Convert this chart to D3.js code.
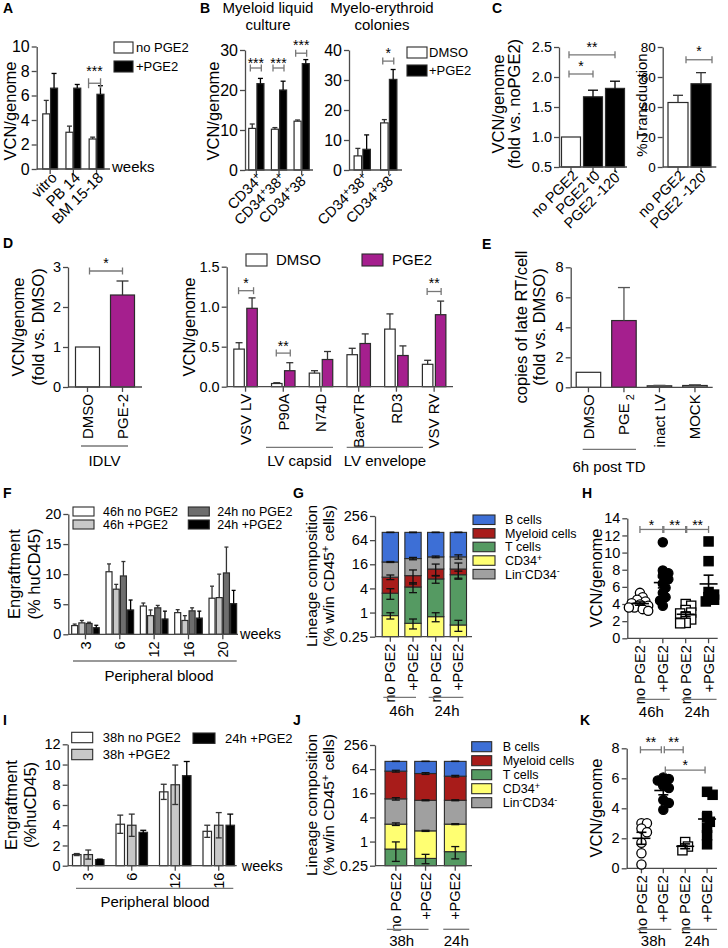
<!DOCTYPE html>
<html>
<head>
<meta charset="utf-8">
<script src="https://cdn.jsdelivr.net/npm/d3@7"></script>
<style>
  body { margin: 0; background: #fff; }
</style>
</head>
<body>
<div id="fig"></div>
<script>
// ---------- data ----------
// A
const aCats = ['vitro', 'PB 14', 'BM 15-18'];
const aNo = [4.5, 3.0, 2.45];
const aNoErr = [1.1, 0.5, 0.15];
const aPge = [6.6, 6.6, 6.1];
const aPgeErr = [1.2, 0.3, 0.7];

// B
const bLiqCats = ['CD34+', 'CD34+38+', 'CD34+38-'];
const bLiqDmso = [10.4, 10.2, 12.2];
const bLiqDmsoErr = [1.1, 0.4, 0.3];
const bLiqPge = [21.6, 20.0, 26.6];
const bLiqPgeErr = [1.3, 2.2, 1.0];
const bColCats = ['CD34+38+', 'CD34+38-'];
const bColDmso = [4.7, 15.7];
const bColDmsoErr = [2.5, 1.1];
const bColPge = [6.9, 30.2];
const bColPgeErr = [4.8, 3.3];

// C
const cVcnCats = ['no PGE2', 'PGE2 t0', "PGE2 -120'"];
const cVcn = [1.0, 1.67, 1.81];
const cVcnErr = [0, 0.11, 0.12];
const cTrCats = ['no PGE2', "PGE2 -120'"];
const cTr = [43, 55.5];
const cTrErr = [4.8, 7.4];

// D
const dIdlvCats = ['DMSO', 'PGE-2'];
const dIdlv = [1.0, 2.3];
const dIdlvErr = [0, 0.35];
const dVecCats = ['VSV LV', 'P90A', 'N74D', 'BaevTR', 'RD3', 'VSV RV'];
const dVecDmso = [0.47, 0.04, 0.17, 0.40, 0.72, 0.28];
const dVecDmsoErr = [0.08, 0.01, 0.03, 0.08, 0.19, 0.05];
const dVecPge = [0.98, 0.20, 0.34, 0.54, 0.39, 0.90];
const dVecPgeErr = [0.13, 0.10, 0.10, 0.12, 0.12, 0.17];

// E
const eCats = ['DMSO', 'PGE2', 'inact LV', 'MOCK'];
const eVals = [1.0, 4.45, 0.1, 0.12];
const eErr = [0, 2.2, 0.03, 0.05];

// F
const fWeeks = ['3', '6', '12', '16', '20'];
const f46No = [1.45, 10.4, 4.7, 3.6, 6.0];
const f46NoErr = [0.25, 1.3, 0.5, 0.5, 2.0];
const f46Pge = [1.9, 7.5, 3.1, 2.3, 6.1];
const f46PgeErr = [0.4, 0.8, 0.95, 0.8, 3.9];
const f24No = [1.8, 9.7, 4.4, 3.9, 10.2];
const f24NoErr = [0.2, 2.4, 0.4, 0.5, 4.3];
const f24Pge = [1.1, 4.05, 2.55, 2.7, 5.1];
const f24PgeErr = [0.4, 1.65, 1.3, 1.15, 2.2];

// G (percent of CD45+ cells, stacked)
const gBars = ['46h no', '46h +', '24h no', '24h +'];
const gBarLabels = ['no PGE2', '+PGE2', 'no PGE2', '+PGE2'];
const gCD34 = [0.84, 0.54, 0.79, 0.49];
const gT = [2.2, 3.8, 6.1, 8.3];
const gMyel = [4.6, 4.0, 5.3, 3.4];
const gLin = [10.6, 13.9, 12.3, 12.3];
const gB = [81.8, 77.8, 75.5, 75.5];
const gErr = {CD34: [0.15, 0.15, 0.2, 0.15], T: [0.9, 1.2, 1.5, 2.0], Myel: [1.0, 3.2, 4.0, 5.0], Lin: [0.5, 1.5, 1.2, 3.0], B: [1.0, 1.5, 1.0, 1.0]};

// H
const hGroups = ['46h no PGE2', '46h +PGE2', '24h no PGE2', '24h +PGE2'];
const hNo46 = [5.3, 4.8, 4.5, 4.3, 4.1, 3.95, 3.8, 3.6, 3.4, 3.2, 3.6];
const hPge46 = [11.2, 7.9, 7.6, 7.3, 6.9, 6.4, 5.3, 4.8, 4.4, 3.8, 5.9];
const hNo24 = [4.0, 3.8, 3.3, 3.0, 2.9, 2.5, 2.2, 1.8, 1.75];
const hPge24 = [11.3, 9.0, 5.4, 5.1, 4.8, 4.5, 4.3];

// I
const iWeeks = ['3', '6', '12', '16'];
const i38No = [1.1, 4.1, 7.3, 3.4];
const i38NoErr = [0.1, 0.9, 0.75, 0.6];
const i38Pge = [1.1, 4.0, 8.0, 4.0];
const i38PgeErr = [0.45, 1.1, 1.95, 1.25];
const i24Pge = [0.6, 3.3, 8.9, 4.0];
const i24PgeErr = [0.05, 0.2, 1.4, 1.1];

// J
const jBars = ['38h no', '38h +', '24h +'];
const jBarLabels = ['no PGE2', '+PGE2', '+PGE2'];
const jT = [0.65, 0.38, 0.56];
const jCD34 = [2.07, 1.47, 2.16];
const jLin = [8.9, 8.85, 8.0];
const jMyel = [45.4, 39.1, 32.0];
const jB = [43.0, 50.2, 57.3];
const jErr = {T: [0.33, 0.1, 0.19], CD34: [0.2, 0.06, 0.08], Lin: [0.8, 0.3, 0.3], Myel: [3, 2.5, 2], B: [0.5, 0.5, 0.5]};

// K
const kGroups = ['38h no PGE2', '38h +PGE2', '24h no PGE2', '24h +PGE2'];
const kNo38 = [3.0, 3.0, 2.65, 2.4, 1.7, 1.0, 0.25];
const kPge38 = [6.05, 5.95, 5.85, 5.5, 5.35, 4.55, 4.35, 3.9];
const kNo24 = [1.75, 1.45, 1.2];
const kPge24 = [5.1, 4.9, 3.4, 3.1, 2.7, 2.2, 1.6];

// lineage legend
const linNames = ['B cells', 'Myeloid cells', 'T cells', 'CD34+', 'Lin-CD34-'];
const linKeys = ['B', 'Myel', 'T', 'CD34', 'Lin'];

// ---------- style ----------
const FONT = '"Liberation Sans", Arial, Helvetica, sans-serif';
const AXC = '#4a4a4a';
const BRC = '#777';
const PURPLE = '#a51f8e';
const LIN = {B: '#3d6fd6', Myel: '#a81c1a', T: '#559a62', CD34: '#ffff72', Lin: '#a0a0a0'};

const svg = d3.select('#fig').append('svg')
  .attr('width', 728).attr('height', 948)
  .attr('font-family', FONT);

// ---------- helpers ----------
function rich(t, parts, fs, dy0) {
  let cur = 0;
  parts.forEach((p, i) => {
    const [s, k] = typeof p === 'string' ? [p, null] : p;
    const target = k === 'sup' ? -fs * 0.34 : k === 'sub' ? fs * 0.3 : 0;
    t.append('tspan')
      .attr('dy', (i === 0 ? dy0 : 0) + target - cur)
      .attr('font-size', k ? fs * 0.72 : fs)
      .text(s);
    cur = target;
  });
}

// "CD34+38-" -> superscript signs
const supSigns = s => s.split(/([+-])/).filter(d => d !== '').map(d => (d === '+' || d === '-') ? [d, 'sup'] : d);

function txt(x, y, content, o = {}) {
  const fs = o.fs || 14;
  const t = svg.append('text')
    .attr('transform', `translate(${x},${y})${o.rot ? ` rotate(${o.rot})` : ''}`)
    .attr('font-size', fs)
    .attr('text-anchor', o.anchor || 'start')
    .attr('fill', '#000');
  if (o.bold) t.attr('font-weight', 'bold');
  const dy = o.dy || 0;
  if (Array.isArray(content)) rich(t, content, fs, dy);
  else t.attr('dy', dy).text(content);
  return t;
}

function line(x1, y1, x2, y2, color = AXC, w = 1.3) {
  svg.append('line').attr('x1', x1).attr('y1', y1).attr('x2', x2).attr('y2', y2)
    .attr('stroke', color).attr('stroke-width', w);
}

function yAxis(x, y, vals, fmt, fs = 14) {
  const g = svg.append('g').attr('transform', `translate(${x},0)`)
    .call(d3.axisLeft(y).tickValues(vals).tickFormat(fmt).tickSize(5).tickSizeOuter(0).tickPadding(2));
  g.select('.domain').attr('stroke', AXC).attr('stroke-width', 1.3);
  g.selectAll('.tick line').attr('stroke', AXC).attr('stroke-width', 1.3);
  g.selectAll('.tick text').attr('font-family', FONT).attr('font-size', fs).attr('fill', '#000');
}

const mid = (x, c) => x(c) + x.bandwidth() / 2;

function xAxis(x, yPix, x0, x1, cats) {
  line(x0, yPix, x1, yPix);
  cats.forEach(c => line(mid(x, c), yPix, mid(x, c), yPix + 5));
}

function yTitle(x, yc, lines, fs = 16.5, lh = 19) {
  lines.forEach((l, i) => txt(x + i * lh, yc, l, {rot: -90, anchor: 'middle', fs}));
}

function catLabels(x, yPix, cats, o) {
  const fs = o.fs || 14.5;
  cats.forEach((c, i) => {
    const content = o.parts ? o.parts(c, i) : (o.names ? o.names[i] : c);
    if (o.rot === -45) {
      txt(mid(x, c) + (o.dx || 4), yPix + (o.gap || 6), content, {rot: -45, anchor: 'end', fs, dy: fs * 0.35});
    } else {
      txt(mid(x, c), yPix + (o.gap || 7), content, {rot: -90, anchor: 'end', fs, dy: fs * 0.35});
    }
  });
}

// grouped bars with error bars
function bars(x, y, cats, series, o) {
  const n = series.length;
  const base = o.base !== undefined ? o.base : 0;
  series.forEach((s, i) => {
    const off = (i - (n - 1) / 2) * (o.pitch || 0);
    const cx = c => mid(x, c) + off;
    const fill = j => Array.isArray(s.fill) ? s.fill[j] : s.fill;
    svg.append('g').selectAll('rect').data(cats).join('rect')
      .attr('x', c => cx(c) - o.bw / 2)
      .attr('y', (c, j) => y(s.v[j]))
      .attr('width', o.bw)
      .attr('height', (c, j) => y(base) - y(s.v[j]))
      .attr('fill', (c, j) => fill(j))
      .attr('stroke', '#2b2b2b')
      .attr('stroke-width', 1.2);
    const cap = o.cap || o.bw * 0.5;
    const ec = s.errColor || '#333';
    cats.forEach((c, j) => {
      const e = s.e[j];
      if (!e) return;
      const top = y(s.v[j] + e);
      const bot = o.both ? y(Math.max(s.v[j] - e, base)) : y(s.v[j]);
      line(cx(c), bot, cx(c), top, ec, 1.3);
      line(cx(c) - cap / 2, top, cx(c) + cap / 2, top, ec, 1.3);
      if (o.both) line(cx(c) - cap / 2, bot, cx(c) + cap / 2, bot, ec, 1.3);
    });
  });
}

// significance bracket between two pixel x positions at value level
function bracket(xa, xb, yPix, stars, o = {}) {
  const h = o.h || 3.5;
  line(xa, yPix, xb, yPix, BRC, 1.3);
  line(xa, yPix - h, xa, yPix + h, BRC, 1.3);
  line(xb, yPix - h, xb, yPix + h, BRC, 1.3);
  const fs = o.fs || 14;
  txt((xa + xb) / 2, yPix - (o.gap || 10.5) + fs * 0.57, stars, {anchor: 'middle', fs});
}

function legend(items, x, y, o) {
  items.forEach((it, i) => {
    const yy = y + i * o.step;
    svg.append('rect').attr('x', x).attr('y', yy).attr('width', o.w).attr('height', o.h)
      .attr('fill', it.fill).attr('stroke', '#2b2b2b').attr('stroke-width', 1.1);
    txt(x + o.w + o.gap, yy + o.h / 2, it.label, {fs: o.fs, dy: o.fs * 0.35});
  });
}

// stacked bars on a log axis
function stackBars(x, y, bars, rows, keys, errs, bw) {
  const stacked = d3.stack().keys(keys)(rows);
  const lo = y.domain()[0];
  stacked.forEach(layer => {
    svg.append('g').selectAll('rect').data(layer).join('rect')
      .attr('x', (d, j) => mid(x, bars[j]) - bw / 2)
      .attr('y', d => y(d[1]))
      .attr('width', bw)
      .attr('height', d => y(Math.max(d[0], lo)) - y(d[1]))
      .attr('fill', LIN[layer.key])
      .attr('stroke', '#2b2b2b')
      .attr('stroke-width', 1.1);
  });
  stacked.forEach(layer => {
    layer.forEach((d, j) => {
      const e = errs[layer.key][j];
      const cx = mid(x, bars[j]);
      const t = y(d[1] + e), b = y(Math.max(d[1] - e, lo));
      line(cx, b, cx, t, '#111', 1.3);
      line(cx - 4, t, cx + 4, t, '#111', 1.3);
      line(cx - 4, b, cx + 4, b, '#111', 1.3);
    });
  });
}

// simple beeswarm offsets in pixels (points may overlap a little)
function swarm(vals, y, r) {
  const placed = [];
  const pts = vals.map(v => ({v, py: y(v), dx: 0})).sort((a, b) => a.py - b.py);
  const minD = r * 1.05;
  pts.forEach(p => {
    for (let k = 0; k < 40; k++) {
      const dx = (k % 2 ? 1 : -1) * Math.ceil(k / 2) * r * 0.6;
      if (placed.every(q => (q.dx - dx) ** 2 + (q.py - p.py) ** 2 >= minD * minD)) { p.dx = dx; break; }
    }
    placed.push(p);
  });
  return pts;
}

function scatter(cx, y, vals, shape, filled) {
  const r = 4.6;
  const pts = swarm(vals, y, r);
  const g = svg.append('g');
  pts.forEach(p => {
    const el = shape === 'circle'
      ? g.append('circle').attr('cx', cx + p.dx).attr('cy', p.py).attr('r', r)
      : g.append('rect').attr('x', cx + p.dx - r).attr('y', p.py - r).attr('width', r * 2).attr('height', r * 2);
    el.attr('fill', filled ? '#000' : '#fff').attr('stroke', '#000').attr('stroke-width', 1.3);
  });
  const m = d3.mean(vals);
  const sem = d3.deviation(vals) / Math.sqrt(vals.length);
  line(cx - 9, y(m), cx + 9, y(m), '#000', 1.6);
  line(cx, y(m - sem), cx, y(m + sem), '#000', 1.6);
  line(cx - 5, y(m - sem), cx + 5, y(m - sem), '#000', 1.6);
  line(cx - 5, y(m + sem), cx + 5, y(m + sem), '#000', 1.6);
}

const fmtD = d3.format('d');
const fmt1 = d3.format('.1f');

// ---------- panel letters ----------
[['A', 3, 13], ['B', 200, 13], ['C', 492, 13], ['D', 3, 248], ['E', 482, 249], ['F', 3, 498],
 ['G', 293, 498], ['H', 582, 498], ['I', 3, 725], ['J', 293, 725], ['K', 580, 725]]
  .forEach(([l, x, y]) => txt(x, y, l, {fs: 14, bold: true}));

// ---------- A ----------
{
  const x = d3.scaleBand().domain(aCats).range([36.7, 110]).paddingOuter(0.08);
  const y = d3.scaleLinear().domain([0, 10]).range([169, 46.5]);
  yAxis(36.7, y, [0, 2, 4, 6, 8, 10], fmtD, 16);
  bars(x, y, aCats, [{v: aNo, e: aNoErr, fill: '#fff'}, {v: aPge, e: aPgeErr, fill: '#000', errColor: '#000'}], {bw: 7, pitch: 7.8, cap: 5});
  xAxis(x, y(0), 36.7, 110, aCats);
  catLabels(x, y(0), aCats, {rot: -45, fs: 15});
  txt(112, y(0) - 2, 'weeks', {fs: 15, dy: 5});
  yTitle(15.5, 111, ['VCN/genome']);
  const xb = mid(x, 'BM 15-18');
  bracket(xb - 8, xb + 4, y(7.0), '***', {h: 5, gap: 15});
  legend([{label: 'no PGE2', fill: '#fff'}, {label: '+PGE2', fill: '#000'}], 114, 42, {w: 19, h: 11, step: 19, gap: 3, fs: 13});
}

// ---------- B ----------
{
  txt(268, 13, 'Myeloid liquid', {fs: 15, anchor: 'middle'});
  txt(268, 30, 'culture', {fs: 15, anchor: 'middle'});
  txt(382, 13, 'Myelo-erythroid', {fs: 15, anchor: 'middle'});
  txt(382, 30, 'colonies', {fs: 15, anchor: 'middle'});

  const x = d3.scaleBand().domain(bLiqCats).range([245, 313]);
  const y = d3.scaleLinear().domain([0, 30]).range([170, 50]);
  yAxis(245, y, [0, 10, 20, 30], fmtD, 16);
  bars(x, y, bLiqCats, [{v: bLiqDmso, e: bLiqDmsoErr, fill: '#fff'}, {v: bLiqPge, e: bLiqPgeErr, fill: '#000', errColor: '#000'}], {bw: 7, pitch: 8.2, cap: 5});
  xAxis(x, y(0), 245, 313, bLiqCats);
  catLabels(x, y(0), bLiqCats, {rot: -45, fs: 14.5, parts: supSigns});
  yTitle(219, 111, ['VCN/genome']);
  bLiqCats.forEach((c, i) => {
    const lvl = i === 2 ? 29.2 : 25.5;
    bracket(mid(x, c) - 6, mid(x, c) + 5, y(lvl), '***', {gap: i === 2 ? 11 : 8});
  });

  const x2 = d3.scaleBand().domain(bColCats).range([349, 402]);
  const y2 = d3.scaleLinear().domain([0, 40]).range([170, 50]);
  yAxis(349, y2, [0, 10, 20, 30, 40], fmtD, 16);
  bars(x2, y2, bColCats, [{v: bColDmso, e: bColDmsoErr, fill: '#fff'}, {v: bColPge, e: bColPgeErr, fill: '#000', errColor: '#000'}], {bw: 7.5, pitch: 8.8, cap: 5});
  xAxis(x2, y2(0), 349, 402, bColCats);
  catLabels(x2, y2(0), bColCats, {rot: -45, fs: 14.5, parts: supSigns});
  const xc = mid(x2, 'CD34+38-');
  bracket(xc - 6, xc + 5, y2(36.3), '*', {gap: 11});
  legend([{label: 'DMSO', fill: '#fff'}, {label: '+PGE2', fill: '#000'}], 407, 47, {w: 20, h: 11, step: 18, gap: 2, fs: 13});
}

// ---------- C ----------
{
  const x = d3.scaleBand().domain(cVcnCats).range([559, 627]).paddingOuter(0.045);
  const y = d3.scaleLinear().domain([0.5, 2.5]).range([167, 47]);
  yAxis(559, y, [0.5, 1.0, 1.5, 2.0, 2.5], fmt1, 14.5);
  bars(x, y, cVcnCats, [{v: cVcn, e: cVcnErr, fill: ['#fff', '#000', '#000'], errColor: '#000'}], {bw: 19, base: 0.5, cap: 10});
  xAxis(x, y(0.5), 559, 627, cVcnCats);
  catLabels(x, y(0.5), cVcnCats, {rot: -45, fs: 14.5});
  yTitle(504, 104, ['VCN/genome', '(fold vs. noPGE2)'], 16.5, 16);
  bracket(mid(x, cVcnCats[0]) - 2, mid(x, cVcnCats[1]), y(2.05), '*');
  bracket(mid(x, cVcnCats[0]) - 2, mid(x, cVcnCats[2]), y(2.37), '**');

  const x2 = d3.scaleBand().domain(cTrCats).range([662.7, 716.3]).paddingOuter(0.165);
  const y2 = d3.scaleLinear().domain([0, 80]).range([167, 47]);
  yAxis(662.7, y2, [0, 20, 40, 60, 80], fmtD, 13.5);
  bars(x2, y2, cTrCats, [{v: cTr, e: cTrErr, fill: ['#fff', '#000'], errColor: '#333'}], {bw: 20, cap: 10});
  xAxis(x2, y2(0), 662.7, 716.3, cTrCats);
  catLabels(x2, y2(0), cTrCats, {rot: -45, fs: 14.5});
  yTitle(647, 105, ['% Transduction'], 15);
  bracket(mid(x2, cTrCats[0]) + 8, mid(x2, cTrCats[1]) + 11, y2(71.5), '*', {gap: 12});
}

// ---------- D ----------
{
  const x = d3.scaleBand().domain(dIdlvCats).range([68, 142]).paddingOuter(0.057);
  const y = d3.scaleLinear().domain([0, 3]).range([387, 267]);
  yAxis(68, y, [0, 1, 2, 3], fmtD, 14.5);
  bars(x, y, dIdlvCats, [{v: dIdlv, e: dIdlvErr, fill: ['#fff', PURPLE]}], {bw: 24, cap: 12});
  xAxis(x, y(0), 68, 142, dIdlvCats);
  catLabels(x, y(0), dIdlvCats, {rot: -90, fs: 15});
  yTitle(24, 327, ['VCN/genome', '(fold vs. DMSO)'], 16.5, 20);
  bracket(mid(x, 'DMSO') + 2, mid(x, 'PGE-2'), y(2.9), '*');
  line(81, 446, 128, 446, BRC, 1.3);
  txt(104.5, 466, 'IDLV', {fs: 15, anchor: 'middle'});

  const x2 = d3.scaleBand().domain(dVecCats).range([226.7, 453]);
  const y2 = d3.scaleLinear().domain([0, 1.5]).range([386.7, 266.7]);
  yAxis(226.7, y2, [0, 0.5, 1.0, 1.5], fmt1, 14.5);
  bars(x2, y2, dVecCats, [{v: dVecDmso, e: dVecDmsoErr, fill: '#fff'}, {v: dVecPge, e: dVecPgeErr, fill: PURPLE}], {bw: 10.5, pitch: 13, cap: 7});
  xAxis(x2, y2(0), 226.7, 453, dVecCats);
  catLabels(x2, y2(0), dVecCats, {rot: -90, fs: 15});
  yTitle(195, 327, ['VCN/genome']);
  bracket(mid(x2, 'VSV LV') - 7, mid(x2, 'VSV LV') + 8, y2(1.2), '*');
  bracket(mid(x2, 'P90A') - 7, mid(x2, 'P90A') + 7, y2(0.42), '**');
  bracket(mid(x2, 'VSV RV') - 7, mid(x2, 'VSV RV') + 7, y2(1.19), '**', {gap: 11.5});
  line(266, 447.3, 333, 447.3, BRC, 1.3);
  line(346.7, 447.3, 423, 447.3, BRC, 1.3);
  txt(299.5, 466, 'LV capsid', {fs: 15, anchor: 'middle'});
  txt(385, 466, 'LV envelope', {fs: 15, anchor: 'middle'});
  legend([{label: 'DMSO', fill: '#fff'}], 246, 254, {w: 21, h: 12, step: 0, gap: 9, fs: 15});
  legend([{label: 'PGE2', fill: PURPLE}], 362, 254, {w: 21, h: 12, step: 0, gap: 9, fs: 15});
}

// ---------- E ----------
{
  const x = d3.scaleBand().domain(eCats).range([570.7, 712.7]);
  const y = d3.scaleLinear().domain([0, 8]).range([387.3, 267.3]);
  yAxis(570.7, y, [0, 2, 4, 6, 8], fmtD, 14.5);
  bars(x, y, eCats, [{v: eVals, e: eErr, fill: ['#fff', PURPLE, '#9a9a9a', '#9a9a9a'], errColor: '#555'}], {bw: 24.5, cap: 12});
  xAxis(x, y(0), 570.7, 712.7, eCats);
  catLabels(x, y(0), eCats, {rot: -90, fs: 15, parts: c => c === 'PGE2' ? ['PGE', [' 2', 'sub']] : c});
  yTitle(527, 327, ['copies of late RT/cell', '(fold vs. DMSO)'], 16.5, 18);
  line(582.7, 449.3, 636, 449.3, BRC, 1.3);
  txt(609, 472, '6h post TD', {fs: 15, anchor: 'middle'});
}

// ---------- F ----------
{
  const x = d3.scaleBand().domain(fWeeks).range([68.3, 240]);
  const y = d3.scaleLinear().domain([0, 20]).range([634.3, 514]);
  yAxis(68.3, y, [0, 5, 10, 15, 20], fmtD, 14.5);
  bars(x, y, fWeeks, [
    {v: f46No, e: f46NoErr, fill: '#fff'},
    {v: f46Pge, e: f46PgeErr, fill: '#c8c8c8'},
    {v: f24No, e: f24NoErr, fill: '#6e6e6e'},
    {v: f24Pge, e: f24PgeErr, fill: '#000', errColor: '#000'}
  ], {bw: 6, pitch: 7.2, cap: 4});
  xAxis(x, y(0), 68.3, 238, fWeeks);
  catLabels(x, y(0), fWeeks, {rot: -90, fs: 14.5});
  txt(240, y(0), 'weeks', {fs: 14.5, dy: 5});
  yTitle(20, 574, ['Engraftment', '(% huCD45)'], 16.5, 20);
  line(73, 661, 236.7, 661, BRC, 1.3);
  txt(159, 681, 'Peripheral blood', {fs: 15, anchor: 'middle'});
  legend([{label: '46h no PGE2', fill: '#fff'}, {label: '46h +PGE2', fill: '#c8c8c8'}], 73, 507, {w: 21, h: 9, step: 13, gap: 9, fs: 12.5});
  legend([{label: '24h no PGE2', fill: '#6e6e6e'}, {label: '24h +PGE2', fill: '#000'}], 188.3, 507, {w: 21, h: 9, step: 13, gap: 8, fs: 12.5});
}

// ---------- G ----------
{
  const x = d3.scaleBand().domain(gBars).range([375, 473.7]).paddingOuter(0.176);
  const y = d3.scaleLog().base(2).domain([0.25, 256]).range([636.7, 516]);
  yAxis(375, y, [0.25, 1, 4, 16, 64, 256], d => d < 1 ? '0.25' : fmtD(d), 14.5);
  const rows = gBars.map((b, j) => ({CD34: gCD34[j], T: gT[j], Myel: gMyel[j], Lin: gLin[j], B: gB[j]}));
  stackBars(x, y, gBars, rows, ['CD34', 'T', 'Myel', 'Lin', 'B'], gErr, 16.3);
  xAxis(x, y(0.25), 375, 472, gBars);
  catLabels(x, y(0.25), gBars, {rot: -90, fs: 14.5, names: gBarLabels});
  yTitle(317, 576, ['Lineage composition', ['(% w/in CD45', ['+', 'sup'], ' cells)']], 15.5, 17);
  line(mid(x, gBars[0]) - 7, 697.3, mid(x, gBars[1]) + 3, 697.3, BRC, 1.3);
  line(mid(x, gBars[2]) - 7, 697.3, mid(x, gBars[3]) + 5, 697.3, BRC, 1.3);
  txt((mid(x, gBars[0]) + mid(x, gBars[1])) / 2, 716, '46h', {fs: 15, anchor: 'middle'});
  txt((mid(x, gBars[2]) + mid(x, gBars[3])) / 2, 716, '24h', {fs: 15, anchor: 'middle'});
  legend(linKeys.map((k, i) => ({label: supSigns(linNames[i]), fill: LIN[k]})), 473, 515, {w: 22, h: 9.5, step: 13.6, gap: 10, fs: 12.5});
}

// ---------- H ----------
{
  const x = d3.scaleBand().domain(hGroups).range([628.5, 720]);
  const y = d3.scaleLinear().domain([0, 14]).range([638.3, 518.3]);
  yAxis(627.3, y, [0, 2, 4, 6, 8, 10, 12, 14], fmtD, 14.5);
  xAxis(x, y(0), 627.3, 717.7, hGroups);
  scatter(mid(x, hGroups[0]), y, hNo46, 'circle', false);
  scatter(mid(x, hGroups[1]), y, hPge46, 'circle', true);
  scatter(mid(x, hGroups[2]), y, hNo24, 'square', false);
  scatter(mid(x, hGroups[3]), y, hPge24, 'square', true);
  catLabels(x, y(0), hGroups, {rot: -90, fs: 14.5, names: ['no PGE2', '+PGE2', 'no PGE2', '+PGE2']});
  yTitle(602, 578, ['VCN/genome']);
  bracket(mid(x, hGroups[0]), mid(x, hGroups[1]), y(12.7), '*', {gap: 7.5});
  bracket(mid(x, hGroups[1]) + 1, mid(x, hGroups[2]), y(12.7), '**', {gap: 7.5});
  bracket(mid(x, hGroups[2]) + 1, mid(x, hGroups[3]), y(12.7), '**', {gap: 7.5});
  line(mid(x, hGroups[0]) - 3, 699.3, mid(x, hGroups[1]) + 7, 699.3, BRC, 1.3);
  line(mid(x, hGroups[2]) - 4, 699.3, mid(x, hGroups[3]) + 8, 699.3, BRC, 1.3);
  txt((mid(x, hGroups[0]) + mid(x, hGroups[1])) / 2, 717, '46h', {fs: 15, anchor: 'middle'});
  txt((mid(x, hGroups[2]) + mid(x, hGroups[3])) / 2, 717, '24h', {fs: 15, anchor: 'middle'});
}

// ---------- I ----------
{
  const x = d3.scaleBand().domain(iWeeks).range([66.5, 240.5]);
  const y = d3.scaleLinear().domain([0, 12]).range([865.7, 744.3]);
  yAxis(67.7, y, [0, 2, 4, 6, 8, 10, 12], fmtD, 14.5);
  bars(x, y, iWeeks, [
    {v: i38No, e: i38NoErr, fill: '#fff'},
    {v: i38Pge, e: i38PgeErr, fill: '#c8c8c8'},
    {v: i24Pge, e: i24PgeErr, fill: '#000', errColor: '#000'}
  ], {bw: 8.5, pitch: 11.5, cap: 6, both: true});
  xAxis(x, y(0), 67.7, 236.7, iWeeks);
  catLabels(x, y(0), iWeeks, {rot: -90, fs: 14.5});
  txt(241.7, y(0), 'weeks', {fs: 14.5, dy: 5});
  yTitle(17, 805, ['Engraftment', '(%huCD45)'], 16.5, 19);
  line(76, 888.3, 233.3, 888.3, BRC, 1.3);
  txt(155, 907, 'Peripheral blood', {fs: 15, anchor: 'middle'});
  legend([{label: '38h no PGE2', fill: '#fff'}, {label: '38h +PGE2', fill: '#c8c8c8'}], 71.7, 732.3, {w: 21, h: 10.4, step: 17, gap: 10, fs: 13});
  legend([{label: '24h +PGE2', fill: '#000'}], 193, 733, {w: 22, h: 10.4, step: 0, gap: 10, fs: 13});
}

// ---------- J ----------
{
  const x = d3.scaleBand().domain(jBars).range([381, 470.1]);
  const y = d3.scaleLog().base(2).domain([0.25, 256]).range([865.7, 745]);
  yAxis(375, y, [0.25, 1, 4, 16, 64, 256], d => d < 1 ? '0.25' : fmtD(d), 14.5);
  const rows = jBars.map((b, j) => ({T: jT[j], CD34: jCD34[j], Lin: jLin[j], Myel: jMyel[j], B: jB[j]}));
  stackBars(x, y, jBars, rows, ['T', 'CD34', 'Lin', 'Myel', 'B'], jErr, 21.7);
  xAxis(x, y(0.25), 375, 472, jBars);
  catLabels(x, y(0.25), jBars, {rot: -90, fs: 14.5, names: jBarLabels});
  yTitle(317, 805, ['Lineage composition', ['(% w/in CD45', ['+', 'sup'], ' cells)']], 15.5, 17);
  line(mid(x, jBars[0]) - 9, 929.3, mid(x, jBars[1]) + 3, 929.3, BRC, 1.3);
  line(mid(x, jBars[2]) - 12, 929.3, mid(x, jBars[2]) + 14, 929.3, BRC, 1.3);
  txt((mid(x, jBars[0]) + mid(x, jBars[1])) / 2 - 9, 946, '38h', {fs: 15, anchor: 'middle'});
  txt(mid(x, jBars[2]) + 1, 946, '24h', {fs: 15, anchor: 'middle'});
  legend(linKeys.map((k, i) => ({label: supSigns(linNames[i]), fill: LIN[k]})), 471.7, 741.7, {w: 20, h: 10, step: 14, gap: 11, fs: 12.5});
}

// ---------- K ----------
{
  const x = d3.scaleBand().domain(kGroups).range([630.5, 718]);
  const y = d3.scaleLinear().domain([0, 8]).range([868.3, 748.3]);
  yAxis(626.7, y, [0, 2, 4, 6, 8], fmtD, 14.5);
  xAxis(x, y(0), 626.7, 717, kGroups);
  scatter(mid(x, kGroups[0]), y, kNo38, 'circle', false);
  scatter(mid(x, kGroups[1]), y, kPge38, 'circle', true);
  scatter(mid(x, kGroups[2]), y, kNo24, 'square', false);
  scatter(mid(x, kGroups[3]), y, kPge24, 'square', true);
  catLabels(x, y(0), kGroups, {rot: -90, fs: 14.5, names: ['no PGE2', '+PGE2', 'no PGE2', '+PGE2']});
  yTitle(602, 808, ['VCN/genome']);
  bracket(mid(x, kGroups[0]) - 1, mid(x, kGroups[1]) - 2, y(7.9), '**');
  bracket(mid(x, kGroups[1]) + 1, mid(x, kGroups[2]) - 2, y(7.9), '**');
  bracket(mid(x, kGroups[1]) + 2, mid(x, kGroups[3]) - 2, y(6.55), '*', {gap: 8.5});
  line(mid(x, kGroups[0]) - 4, 929.3, mid(x, kGroups[1]) + 8, 929.3, BRC, 1.3);
  line(mid(x, kGroups[2]) - 3, 929.3, mid(x, kGroups[3]) + 10, 929.3, BRC, 1.3);
  txt((mid(x, kGroups[0]) + mid(x, kGroups[1])) / 2 + 1, 946, '38h', {fs: 15, anchor: 'middle'});
  txt((mid(x, kGroups[2]) + mid(x, kGroups[3])) / 2 + 1, 946, '24h', {fs: 15, anchor: 'middle'});
}
</script>
</body>
</html>
